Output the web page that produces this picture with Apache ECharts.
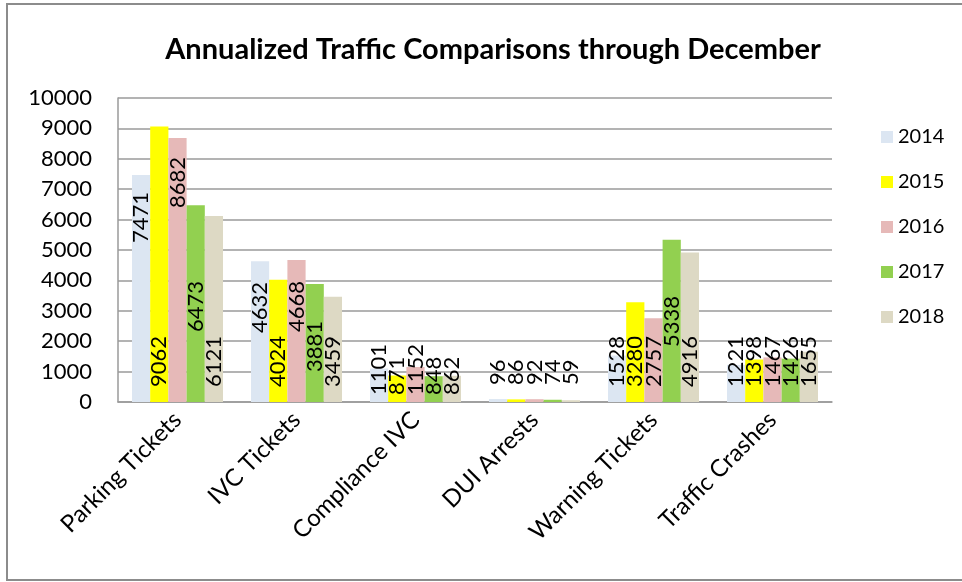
<!DOCTYPE html>
<html>
<head>
<meta charset="utf-8">
<script src="https://cdn.jsdelivr.net/npm/echarts@6/dist/echarts.min.js"></script>
<style>html,body{margin:0;padding:0;background:#fff}#c{width:962px;height:582px}</style>
</head>
<body>
<div id="c"></div>
<script>
var categories = ["Parking Tickets", "IVC Tickets", "Compliance IVC", "DUI Arrests", "Warning Tickets", "Traffic Crashes"];
var years = ["2014", "2015", "2016", "2017", "2018"];
var v2014 = [7471, 4632, 1101, 96, 1528, 1221];
var v2015 = [9062, 4024, 871, 86, 3280, 1398];
var v2016 = [8682, 4668, 1152, 92, 2757, 1467];
var v2017 = [6473, 3881, 848, 74, 5338, 1426];
var v2018 = [6121, 3459, 862, 59, 4916, 1655];
var yTicks = [0, 1000, 2000, 3000, 4000, 5000, 6000, 7000, 8000, 9000, 10000];

// label lift (pixels from axis) - layout only
var lift = [
  [159, 69, 7, 17, 15, 15],
  [15, 15, 7, 17, 15, 15],
  [194, 70, 7, 17, 15, 15],
  [70, 30, 7, 17, 55, 15],
  [15, 15, 7, 17, 15, 15]
];
var colors = ["#dce6f2", "#ffff00", "#e6b9b8", "#92d050", "#ddd9c4"];
var values = [v2014, v2015, v2016, v2017, v2018];
var FONT = "Lato";

var series = years.map(function (y, si) {
  return {
    name: y,
    type: "bar",
    barGap: "0%",
    barCategoryGap: "23.5%",
    itemStyle: { color: colors[si] },
    data: values[si].map(function (v, ci) {
      return {
        value: v,
        label: {
          show: true,
          position: "insideBottom",
          distance: lift[si][ci],
          rotate: 90,
          align: "left",
          verticalAlign: "middle",
          color: "#000",
          fontFamily: FONT,
          fontSize: 22
        }
      };
    })
  };
});

var chart = echarts.init(document.getElementById("c"), null, { renderer: "canvas" });
chart.setOption({
  animation: false,
  backgroundColor: "#fff",
  title: {
    text: "Annualized Traffic Comparisons through December",
    left: 488,
    textAlign: "center",
    top: 30,
    textStyle: { fontFamily: FONT, fontWeight: "bold", fontSize: 29, color: "#000" }
  },
  graphic: [{
    type: "rect",
    shape: { x: 7, y: 4, width: 1000, height: 576 },
    style: { fill: null, stroke: "#8c8c8c", lineWidth: 2 },
    silent: true, z: -1
  }],
  legend: {
    orient: "vertical",
    left: 876,
    top: 121,
    itemWidth: 12,
    itemHeight: 12,
    itemGap: 23,
    icon: "rect",
    data: years,
    textStyle: { fontFamily: FONT, fontSize: 20, color: "#000", lineHeight: 22, padding: [0, 0, 0, 0] }
  },
  grid: { left: 118, top: 98, width: 714, height: 304, containLabel: false },
  xAxis: {
    type: "category",
    data: categories,
    axisLine: { show: true, lineStyle: { color: "#9a9a9a", width: 1.5 } },
    axisTick: { show: false },
    axisLabel: {
      interval: 0,
      rotate: 45,
      margin: 14,
      color: "#000",
      fontFamily: FONT,
      fontSize: 24
    }
  },
  yAxis: {
    type: "value",
    min: 0,
    max: 10000,
    interval: 1000,
    axisLine: { show: true, lineStyle: { color: "#9a9a9a", width: 1.5 } },
    axisTick: { show: false },
    splitLine: { show: true, lineStyle: { color: "#9a9a9a", width: 1.5 } },
    axisLabel: {
      margin: 26,
      color: "#000",
      fontFamily: FONT,
      fontSize: 22,
      formatter: function (v) { return String(v); }
    }
  },
  series: series
});
</script>
</body>
</html>
